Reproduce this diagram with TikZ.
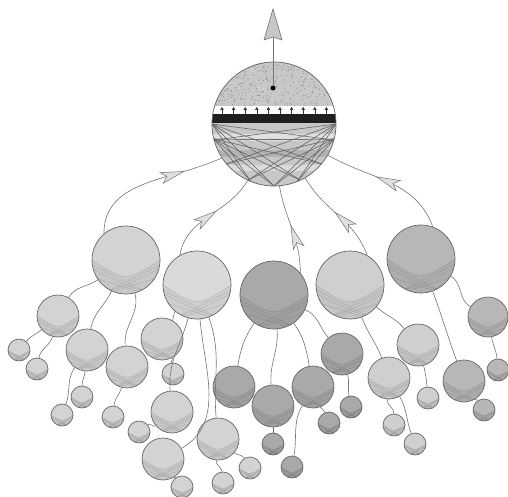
\documentclass[tikz,border=0pt]{standalone}
\usetikzlibrary{arrows.meta,decorations.markings,calc}
\definecolor{cA}{HTML}{D3D3D3}
\definecolor{cB}{HTML}{DADADA}
\definecolor{cC}{HTML}{A9A9A9}
\definecolor{cD}{HTML}{CFCFCF}
\definecolor{cE}{HTML}{B7B7B7}
\newcommand\lnk[4]{\draw[conn] (#1.#3) to[out=#3,in=#4] (#2.#4);}
\begin{document}
\begin{tikzpicture}[x=1pt,y=1pt,
  ball/.style={circle, inner sep=0pt, draw=black!60, line width=0.7pt, fill=#1,
    path picture={
      \path (path picture bounding box.west) coordinate (pW)
            (path picture bounding box.east) coordinate (pE)
            (path picture bounding box.south) coordinate (pS)
            (path picture bounding box.south west) coordinate (pSW)
            (path picture bounding box.south east) coordinate (pSE)
            (path picture bounding box.center) coordinate (pC);
      \fill[black, opacity=.05] (pW) .. controls ($(pS)!.35!(pC)$) .. (pE) -- (pSE) -- (pSW) -- cycle;
      \draw[black, opacity=.16, line width=.35pt]
        (pW) .. controls ($(pS)!.35!(pC)$) .. (pE)
        ($(pW)!.25!(pSW)$) .. controls ($(pS)!.5!(pSE)$) .. ($(pE)!.7!(pSE)$)
        ($(pE)!.25!(pSE)$) .. controls ($(pS)!.5!(pSW)$) .. ($(pW)!.7!(pSW)$)
        ($(pW)!.5!(pSW)$) -- ($(pS)!.6!(pSE)$)
        ($(pE)!.5!(pSE)$) -- ($(pS)!.6!(pSW)$)
        ($(pSW)!.3!(pS)$) -- ($(pE)!.15!(pSE)$)
        ($(pSE)!.3!(pS)$) -- ($(pW)!.15!(pSW)$);
    }},
  big/.style={ball=#1, minimum size=68pt},
  mid/.style={ball=#1, minimum size=42pt},
  sml/.style={ball=#1, minimum size=22pt},
  conn/.style={draw=black!55, line width=0.6pt},
  mainconn/.style={conn, postaction={decorate},
    decoration={markings, mark=at position #1 with {\arrow{Stealth[length=25pt,width=12pt,inset=6pt,fill=black!12,line width=0.5pt]}}}},
]
\useasboundingbox (0,0) rectangle (508,-497);

% ---------- top circle internals ----------
\coordinate (tc) at (274,-124);
\begin{scope}
  \clip (274,-124) circle (62);
  \fill[black!22] (210,-60) rectangle (338,-106);
  \pgfmathsetseed{7}
  \foreach \i in {1,...,450}{
    \pgfmathsetmacro\xx{210+128*rnd}\pgfmathsetmacro\yy{-60-46*rnd}
    \fill[black!45] (\xx,\yy) circle (0.55);
  }
  \foreach \i in {1,...,300}{
    \pgfmathsetmacro\xx{210+128*rnd}\pgfmathsetmacro\yy{-60-46*rnd}
    \fill[white!85!black] (\xx,\yy) circle (0.6);
  }
  \fill[white] (210,-106) rectangle (338,-114);
  \fill[black!88] (210,-114) rectangle (338,-123);
  \fill[black!22] (210,-123) rectangle (338,-190);
  \fill[black!12] (210,-134) rectangle (338,-141);
  \fill[black!30] (210,-150) rectangle (338,-157);
  \fill[black!14] (210,-165) rectangle (338,-171);
  \foreach \a in {180,194}{
    \foreach \b in {-15,-40,-65,-90,-112}{
      \draw[black!62, line width=0.55pt] ($(tc)+(\a:62)$) -- ($(tc)+(\b:62)$);
    }
  }
  \foreach \a in {0,-14}{
    \foreach \b in {195,220,245,270,292}{
      \draw[black!62, line width=0.55pt] ($(tc)+(\a:62)$) -- ($(tc)+(\b:62)$);
    }
  }
  \foreach \i in {0,...,9}{
    \draw[black!80, line width=0.5pt, -{Triangle[length=3pt,width=3.5pt]}]
      ({222+11.6*\i},-114) -- ({222+11.6*\i},-107);
  }
\end{scope}
\node[circle, inner sep=0pt, minimum size=124pt, draw=black!60, line width=0.7pt] (T) at (274,-124) {};

% top arrow
\node[circle, fill=black, inner sep=0pt, minimum size=5pt] (dot) at (273,-88) {};
\coordinate (tb) at (273,-37);
\draw[conn] (dot) -- (tb);
\filldraw[fill=black!22, draw=black!55, line width=0.6pt]
  (273,-9) -- (282,-40) -- (273,-37) -- (264,-40) -- cycle;

% ---------- level 1 ----------
\node[big=cA] (C1) at (126,-260) {};
\node[big=cB] (C2) at (197,-285) {};
\node[big=cC] (C3) at (274,-295) {};
\node[big=cD] (C4) at (350,-285) {};
\node[big=cE] (C5) at (421,-259) {};

% ---------- level 2 ----------
\node[mid=cA] (a1) at (58,-316) {};
\node[mid=cA] (a2) at (87,-350) {};
\node[mid=cA] (a3) at (127,-367) {};
\node[mid=cA] (b1) at (162,-339) {};
\node[mid=cA] (b2) at (172,-412) {};
\node[mid=cA] (b3) at (163,-459) {};
\node[mid=cA] (b4) at (218,-439) {};
\node[mid=cC] (c1) at (234,-387) {};
\node[mid=cC] (c2) at (273,-406) {};
\node[mid=cC] (c3) at (313,-387) {};
\node[mid=cC] (c4) at (342,-354) {};
\node[mid=cD] (d1) at (389,-378) {};
\node[mid=cD] (d2) at (418,-345) {};
\node[ball=cE, minimum size=40pt] (e1) at (488,-317) {};
\node[mid=cE] (e2) at (464,-381) {};

% ---------- leaves ----------
\node[sml=cA] (s1) at (19,-350) {};
\node[sml=cA] (s2) at (37,-369) {};
\node[sml=cA] (s3) at (82,-397) {};
\node[sml=cA] (s4) at (62,-415) {};
\node[sml=cA] (s5) at (113,-417) {};
\node[sml=cA] (s6) at (173,-374) {};
\node[sml=cA] (s7) at (139,-432) {};
\node[sml=cA] (s8) at (182,-487) {};
\node[sml=cA] (s9) at (223,-483) {};
\node[sml=cA] (s10) at (250,-468) {};
\node[sml=cC] (s11) at (273,-444) {};
\node[sml=cC] (s12) at (292,-467) {};
\node[sml=cC] (s13) at (329,-423) {};
\node[sml=cC] (s14) at (351,-407) {};
\node[sml=cD] (s15) at (428,-398) {};
\node[sml=cD] (s16) at (394,-425) {};
\node[sml=cD] (s17) at (415,-444) {};
\node[sml=cE] (s18) at (498,-370) {};
\node[sml=cE] (s19) at (484,-410) {};

% ---------- main connectors ----------
\draw[mainconn=0.74] (C1.130) to[out=90, in=205] (T.213);
\draw[mainconn=0.58] (C2.120) to[out=80, in=240] (T.245);
\draw[mainconn=0.55] (C3.40) to[out=90, in=280] (T.275);
\draw[mainconn=0.55] (C4.60) to[out=110, in=300] (T.300);
\draw[mainconn=0.6] (C5.70) to[out=110, in=330] (T.330);

% ---------- level-2 connectors ----------
\lnk{C1}{a1}{215}{60}
\lnk{C1}{a2}{245}{80}
\lnk{C1}{a3}{285}{95}
\lnk{a1}{s1}{220}{50}
\lnk{a1}{s2}{255}{80}
\lnk{a2}{s3}{265}{90}
\lnk{a2}{s4}{235}{70}
\lnk{a3}{s5}{255}{85}
\lnk{C2}{b1}{230}{60}
\lnk{C2}{b2}{255}{95}
\lnk{C2}{b3}{275}{30}
\lnk{C2}{b4}{290}{95}
\lnk{b1}{s6}{300}{100}
\lnk{b2}{s7}{220}{40}
\lnk{b3}{s8}{300}{120}
\lnk{b4}{s9}{265}{95}
\lnk{b4}{s10}{320}{120}
\lnk{C3}{c1}{235}{80}
\lnk{C3}{c2}{275}{95}
\lnk{C3}{c3}{305}{100}
\lnk{C3}{c4}{335}{130}
\lnk{c2}{s11}{270}{90}
\lnk{c3}{s12}{240}{80}
\lnk{c3}{s13}{290}{110}
\lnk{c4}{s14}{285}{100}
\lnk{C4}{d1}{290}{110}
\lnk{C4}{d2}{320}{130}
\lnk{d1}{s16}{265}{90}
\lnk{d1}{s17}{300}{110}
\lnk{d2}{s15}{285}{95}
\lnk{C5}{e1}{330}{150}
\lnk{C5}{e2}{290}{110}
\lnk{e1}{s18}{280}{95}
\lnk{e2}{s19}{300}{120}
\end{tikzpicture}
\end{document}
